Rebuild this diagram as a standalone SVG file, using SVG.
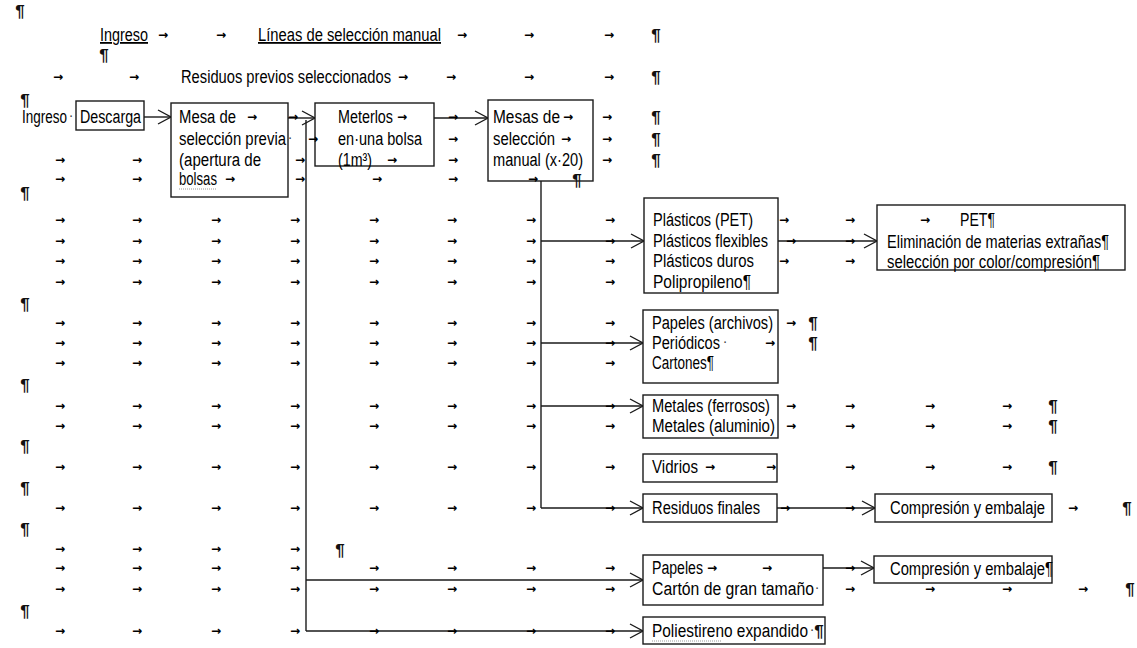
<svg xmlns="http://www.w3.org/2000/svg" width="1137" height="648" viewBox="0 0 1137 648">
<style>
.t{font-family:"Liberation Sans",Arial,sans-serif;font-size:18px;fill:#000}
.k{font-family:"DejaVu Sans",sans-serif;font-size:12px;font-weight:bold;fill:#000;text-anchor:middle}
.p{font-family:"Liberation Sans",Arial,sans-serif;font-size:17px;font-weight:bold;fill:#111;text-anchor:middle}
.d{font-family:"Liberation Sans",Arial,sans-serif;font-size:14px;fill:#444;text-anchor:middle}
.u{text-decoration:underline}
.b{fill:#fff;stroke:#1a1a1a;stroke-width:1.4}
.c{fill:none;stroke:#1a1a1a;stroke-width:1.4}
.sq{fill:none;stroke:#9a9a9a;stroke-width:1;stroke-dasharray:1 1}
</style>
<defs>
<marker id="ah" markerUnits="userSpaceOnUse" markerWidth="16" markerHeight="16" refX="14" refY="8" orient="auto">
<polyline points="1,1 14,8 1,15" fill="none" stroke="#1a1a1a" stroke-width="1.4"/>
</marker>
</defs>
<rect width="1137" height="648" fill="#fff"/>

<g id="connectors">
<path class="c" d="M306 120 V631"/>
<path class="c" d="M541 181 V508"/>
<path class="c" d="M144 117 H171" marker-end="url(#ah)"/>
<path class="c" d="M288 118 H315" marker-end="url(#ah)"/>
<path class="c" d="M434 118 H488" marker-end="url(#ah)"/>
<path class="c" d="M541 241 H644" marker-end="url(#ah)"/>
<path class="c" d="M541 343 H643" marker-end="url(#ah)"/>
<path class="c" d="M541 406 H643" marker-end="url(#ah)"/>
<path class="c" d="M541 508 H643" marker-end="url(#ah)"/>
<path class="c" d="M306 580 H643" marker-end="url(#ah)"/>
<path class="c" d="M306 631 H643" marker-end="url(#ah)"/>
<path class="c" d="M778 241 H877" marker-end="url(#ah)"/>
<path class="c" d="M777 508 H875" marker-end="url(#ah)"/>
<path class="c" d="M823 568 H874" marker-end="url(#ah)"/>
</g>

<g id="headings">
<text class="t u" x="100" y="41" textLength="48" lengthAdjust="spacingAndGlyphs">Ingreso</text>
<text class="t u" x="258" y="41" textLength="183" lengthAdjust="spacingAndGlyphs">Líneas de selección manual</text>
<text class="t" x="181" y="83" textLength="210" lengthAdjust="spacingAndGlyphs">Residuos previos seleccionados</text>
<text class="t" x="22" y="123" textLength="45" lengthAdjust="spacingAndGlyphs">Ingreso</text>
<text class="d" x="71" y="120">·</text>
</g>

<g id="n-descarga">
<rect class="b" x="76" y="101" width="68" height="29"/>
<text class="t" x="80" y="123" textLength="61" lengthAdjust="spacingAndGlyphs">Descarga</text>
</g>

<g id="n-mesa">
<rect class="b" x="171" y="103" width="117" height="94"/>
<text class="t" x="179" y="123" textLength="57" lengthAdjust="spacingAndGlyphs">Mesa de</text>
<text class="t" x="179" y="145" textLength="107" lengthAdjust="spacingAndGlyphs">selección previa</text>
<text class="t" x="179" y="166" textLength="82" lengthAdjust="spacingAndGlyphs">(apertura de</text>
<text class="t" x="179" y="185" textLength="38" lengthAdjust="spacingAndGlyphs">bolsas</text>
<path class="sq" d="M179 189 H216"/>
</g>

<g id="n-meterlos">
<rect class="b" x="315" y="103" width="119" height="63"/>
<text class="t" x="338" y="123" textLength="55" lengthAdjust="spacingAndGlyphs">Meterlos</text>
<text class="t" x="338" y="145" textLength="84" lengthAdjust="spacingAndGlyphs">en·una bolsa</text>
<text class="t" x="338" y="166" textLength="34" lengthAdjust="spacingAndGlyphs">(1m³)</text>
</g>

<g id="n-mesas">
<rect class="b" x="488" y="100" width="105" height="81"/>
<text class="t" x="493" y="123" textLength="67" lengthAdjust="spacingAndGlyphs">Mesas de</text>
<text class="t" x="493" y="145" textLength="62" lengthAdjust="spacingAndGlyphs">selección</text>
<text class="t" x="493" y="166" textLength="90" lengthAdjust="spacingAndGlyphs">manual (x·20)</text>
</g>

<g id="n-plasticos">
<rect class="b" x="644" y="198" width="134" height="95"/>
<text class="t" x="653" y="226" textLength="100" lengthAdjust="spacingAndGlyphs">Plásticos (PET)</text>
<text class="t" x="653" y="247" textLength="115" lengthAdjust="spacingAndGlyphs">Plásticos flexibles</text>
<text class="t" x="653" y="267" textLength="101" lengthAdjust="spacingAndGlyphs">Plásticos duros</text>
<text class="t" x="653" y="288" textLength="98" lengthAdjust="spacingAndGlyphs">Polipropileno¶</text>
</g>

<g id="n-pet">
<rect class="b" x="877" y="205" width="248" height="65"/>
<text class="t" x="960" y="226" textLength="35" lengthAdjust="spacingAndGlyphs">PET¶</text>
<text class="t" x="887" y="248" textLength="222" lengthAdjust="spacingAndGlyphs">Eliminación de materias extrañas¶</text>
<text class="t" x="887" y="268" textLength="213" lengthAdjust="spacingAndGlyphs">selección por color/compresión¶</text>
</g>

<g id="n-papeles">
<rect class="b" x="643" y="310" width="135" height="73"/>
<text class="t" x="652" y="329" textLength="121" lengthAdjust="spacingAndGlyphs">Papeles (archivos)</text>
<text class="t" x="652" y="349" textLength="68" lengthAdjust="spacingAndGlyphs">Periódicos</text>
<text class="t" x="652" y="369" textLength="62" lengthAdjust="spacingAndGlyphs">Cartones¶</text>
</g>

<g id="n-metales">
<rect class="b" x="643" y="395" width="135" height="43"/>
<text class="t" x="652" y="412" textLength="118" lengthAdjust="spacingAndGlyphs">Metales (ferrosos)</text>
<text class="t" x="652" y="432" textLength="123" lengthAdjust="spacingAndGlyphs">Metales (aluminio)</text>
</g>

<g id="n-vidrios">
<rect class="b" x="643" y="454" width="134" height="28"/>
<text class="t" x="652" y="473" textLength="46" lengthAdjust="spacingAndGlyphs">Vidrios</text>
</g>

<g id="n-residuos">
<rect class="b" x="643" y="494" width="134" height="28"/>
<text class="t" x="652" y="514" textLength="108" lengthAdjust="spacingAndGlyphs">Residuos finales</text>
</g>

<g id="n-compresion1">
<rect class="b" x="875" y="494" width="177" height="28"/>
<text class="t" x="890" y="514" textLength="155" lengthAdjust="spacingAndGlyphs">Compresión y embalaje</text>
</g>

<g id="n-papeles2">
<rect class="b" x="643" y="555" width="180" height="50"/>
<text class="t" x="652" y="574" textLength="51" lengthAdjust="spacingAndGlyphs">Papeles</text>
<text class="t" x="652" y="595" textLength="162" lengthAdjust="spacingAndGlyphs">Cartón de gran tamaño</text>
</g>

<g id="n-compresion2">
<rect class="b" x="874" y="556" width="178" height="27"/>
<text class="t" x="890" y="575" textLength="163" lengthAdjust="spacingAndGlyphs">Compresión y embalaje¶</text>
</g>

<g id="n-poliestireno">
<rect class="b" x="643" y="617" width="182" height="27"/>
<text class="t" x="652" y="637" textLength="156" lengthAdjust="spacingAndGlyphs">Poliestireno expandido</text>
<text class="d" x="812" y="634">·</text>
<text class="p" x="819" y="637">¶</text>
<path class="sq" d="M652 641 H722"/>
</g>

<g id="marks">
<text class="p" x="20" y="17">¶</text>
<text class="k" y="39"><tspan x="163">→</tspan><tspan x="221">→</tspan><tspan x="462">→</tspan><tspan x="529">→</tspan><tspan x="609">→</tspan></text>
<text class="p" x="656" y="41">¶</text>
<text class="p" x="104" y="61">¶</text>
<text class="k" y="81"><tspan x="58">→</tspan><tspan x="134">→</tspan><tspan x="403">→</tspan><tspan x="451">→</tspan><tspan x="529">→</tspan><tspan x="609">→</tspan></text>
<text class="p" x="656" y="83">¶</text>
<text class="p" x="25" y="106">¶</text>
<text class="k" y="121"><tspan x="252">→</tspan><tspan x="293">→</tspan><tspan x="402">→</tspan><tspan x="453">→</tspan><tspan x="568">→</tspan><tspan x="607">→</tspan></text>
<text class="p" x="656" y="123">¶</text>
<text class="d" x="290" y="142">·</text>
<text class="k" y="143"><tspan x="313">→</tspan><tspan x="453">→</tspan><tspan x="566">→</tspan><tspan x="607">→</tspan></text>
<text class="p" x="656" y="145">¶</text>
<text class="k" y="164"><tspan x="60">→</tspan><tspan x="137">→</tspan><tspan x="300">→</tspan><tspan x="392">→</tspan><tspan x="453">→</tspan><tspan x="607">→</tspan></text>
<text class="p" x="656" y="166">¶</text>
<text class="k" y="183"><tspan x="60">→</tspan><tspan x="137">→</tspan><tspan x="230">→</tspan><tspan x="300">→</tspan><tspan x="377">→</tspan><tspan x="453">→</tspan><tspan x="533">→</tspan></text>
<text class="p" x="577" y="186">¶</text>
<text class="p" x="25" y="199">¶</text>

<text class="k" y="224"><tspan x="60">→</tspan><tspan x="137">→</tspan><tspan x="216">→</tspan><tspan x="295">→</tspan><tspan x="374">→</tspan><tspan x="452">→</tspan><tspan x="531">→</tspan><tspan x="610">→</tspan><tspan x="784">→</tspan><tspan x="850">→</tspan><tspan x="925">→</tspan></text>
<text class="k" y="245"><tspan x="60">→</tspan><tspan x="137">→</tspan><tspan x="216">→</tspan><tspan x="295">→</tspan><tspan x="374">→</tspan><tspan x="452">→</tspan><tspan x="531">→</tspan><tspan x="610">→</tspan><tspan x="791">→</tspan><tspan x="850">→</tspan></text>
<text class="k" y="265"><tspan x="60">→</tspan><tspan x="137">→</tspan><tspan x="216">→</tspan><tspan x="295">→</tspan><tspan x="374">→</tspan><tspan x="452">→</tspan><tspan x="531">→</tspan><tspan x="610">→</tspan><tspan x="784">→</tspan><tspan x="850">→</tspan></text>
<text class="k" y="286"><tspan x="60">→</tspan><tspan x="137">→</tspan><tspan x="216">→</tspan><tspan x="295">→</tspan><tspan x="374">→</tspan><tspan x="452">→</tspan><tspan x="531">→</tspan><tspan x="610">→</tspan></text>
<text class="p" x="25" y="310">¶</text>

<text class="k" y="327"><tspan x="60">→</tspan><tspan x="137">→</tspan><tspan x="216">→</tspan><tspan x="295">→</tspan><tspan x="374">→</tspan><tspan x="452">→</tspan><tspan x="531">→</tspan><tspan x="610">→</tspan><tspan x="791">→</tspan></text>
<text class="p" x="813" y="329">¶</text>
<text class="k" y="347"><tspan x="60">→</tspan><tspan x="137">→</tspan><tspan x="216">→</tspan><tspan x="295">→</tspan><tspan x="374">→</tspan><tspan x="452">→</tspan><tspan x="531">→</tspan><tspan x="610">→</tspan><tspan x="770">→</tspan></text>
<text class="d" x="725" y="346">·</text>
<text class="p" x="813" y="349">¶</text>
<text class="k" y="367"><tspan x="60">→</tspan><tspan x="137">→</tspan><tspan x="216">→</tspan><tspan x="295">→</tspan><tspan x="374">→</tspan><tspan x="452">→</tspan><tspan x="531">→</tspan><tspan x="610">→</tspan></text>
<text class="p" x="25" y="391">¶</text>

<text class="k" y="410"><tspan x="60">→</tspan><tspan x="137">→</tspan><tspan x="216">→</tspan><tspan x="295">→</tspan><tspan x="374">→</tspan><tspan x="452">→</tspan><tspan x="531">→</tspan><tspan x="610">→</tspan><tspan x="791">→</tspan><tspan x="850">→</tspan><tspan x="930">→</tspan><tspan x="1007">→</tspan></text>
<text class="p" x="1053" y="412">¶</text>
<text class="k" y="430"><tspan x="60">→</tspan><tspan x="137">→</tspan><tspan x="216">→</tspan><tspan x="295">→</tspan><tspan x="374">→</tspan><tspan x="452">→</tspan><tspan x="531">→</tspan><tspan x="610">→</tspan><tspan x="791">→</tspan><tspan x="850">→</tspan><tspan x="930">→</tspan><tspan x="1007">→</tspan></text>
<text class="p" x="1053" y="432">¶</text>
<text class="p" x="25" y="452">¶</text>

<text class="k" y="471"><tspan x="60">→</tspan><tspan x="137">→</tspan><tspan x="216">→</tspan><tspan x="295">→</tspan><tspan x="374">→</tspan><tspan x="452">→</tspan><tspan x="531">→</tspan><tspan x="610">→</tspan><tspan x="710">→</tspan><tspan x="771">→</tspan><tspan x="850">→</tspan><tspan x="930">→</tspan><tspan x="1007">→</tspan></text>
<text class="p" x="1053" y="473">¶</text>
<text class="p" x="25" y="494">¶</text>

<text class="k" y="512"><tspan x="60">→</tspan><tspan x="137">→</tspan><tspan x="216">→</tspan><tspan x="295">→</tspan><tspan x="374">→</tspan><tspan x="452">→</tspan><tspan x="531">→</tspan><tspan x="610">→</tspan><tspan x="785">→</tspan><tspan x="850">→</tspan><tspan x="1073">→</tspan></text>
<text class="p" x="1127" y="514">¶</text>
<text class="p" x="25" y="535">¶</text>

<text class="k" y="553"><tspan x="60">→</tspan><tspan x="137">→</tspan><tspan x="216">→</tspan><tspan x="295">→</tspan></text>
<text class="p" x="340" y="556">¶</text>
<text class="k" y="572"><tspan x="60">→</tspan><tspan x="137">→</tspan><tspan x="216">→</tspan><tspan x="295">→</tspan><tspan x="374">→</tspan><tspan x="452">→</tspan><tspan x="531">→</tspan><tspan x="610">→</tspan><tspan x="712">→</tspan><tspan x="767">→</tspan><tspan x="850">→</tspan></text>
<text class="k" y="593"><tspan x="60">→</tspan><tspan x="137">→</tspan><tspan x="216">→</tspan><tspan x="295">→</tspan><tspan x="374">→</tspan><tspan x="452">→</tspan><tspan x="531">→</tspan><tspan x="610">→</tspan><tspan x="850">→</tspan><tspan x="930">→</tspan><tspan x="1007">→</tspan><tspan x="1083">→</tspan></text>
<text class="d" x="817" y="592">·</text>
<text class="p" x="1130" y="595">¶</text>
<text class="p" x="25" y="617">¶</text>

<text class="k" y="635"><tspan x="60">→</tspan><tspan x="137">→</tspan><tspan x="216">→</tspan><tspan x="295">→</tspan><tspan x="374">→</tspan><tspan x="452">→</tspan><tspan x="531">→</tspan><tspan x="610">→</tspan></text>
</g>
</svg>
